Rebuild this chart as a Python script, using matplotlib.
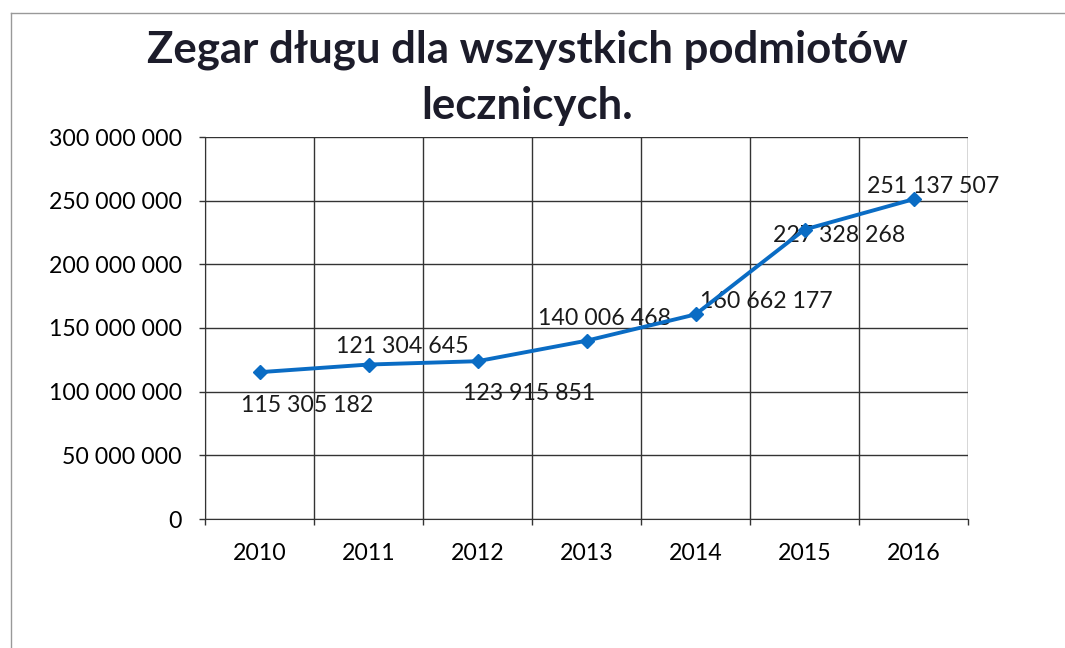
import matplotlib.pyplot as plt
from matplotlib.lines import Line2D
from matplotlib.ticker import FuncFormatter

plt.rcParams['font.family'] = ['Lato', 'DejaVu Sans']

years = ['2010', '2011', '2012', '2013', '2014', '2015', '2016']
debt = [115305182, 121304645, 123915851, 140006468, 160662177, 227328268, 251137507]
# label offsets in points (dx, dy)
label_off = [(34, -24), (24, 13), (37, -23), (13, 16), (51, 9), (25, -4), (14, 9)]

fig = plt.figure(figsize=(10.65, 6.48), dpi=100, facecolor='white')
ax = fig.add_axes([205/1065, 1 - 519/648, (968-205)/1065, (519-137)/648])

x = list(range(len(years)))
ax.plot(x, debt, color='#0a6cc4', lw=2.8, marker='D', ms=7, zorder=3)

for xi, v, (dx, dy) in zip(x, debt, label_off):
    s = f'{v:,}'.replace(',', ' ')
    ax.annotate(s, (xi, v), xytext=(dx, dy), textcoords='offset points',
                ha='center', va='center', fontsize=16.7, color='#1a1a1a', zorder=2)

ax.set_xlim(-0.5, len(years) - 0.5)
ax.set_ylim(0, 300000000)
ax.set_yticks(range(0, 300000001, 50000000))
ax.yaxis.set_major_formatter(FuncFormatter(lambda v, p: f'{int(v):,}'.replace(',', ' ')))
ax.set_xticks(x)
ax.set_xticklabels(years)
ax.set_xticks([i - 0.5 for i in range(len(years) + 1)], minor=True)
ax.tick_params(axis='x', which='major', length=0, pad=17, labelsize=16.7)
ax.tick_params(axis='x', which='minor', length=4.5, width=1, color='#333333')
ax.tick_params(axis='y', length=4.5, width=1, color='#333333', pad=12, labelsize=16.7)

ax.grid(True, axis='y', which='major', color='#333333', lw=1)
ax.grid(True, axis='x', which='minor', color='#333333', lw=1)
for sp in ['top', 'right']:
    ax.spines[sp].set_visible(False)
for sp in ['left', 'bottom']:
    ax.spines[sp].set_color('#333333')
ax.set_axisbelow(True)

fig.text(0.495, 1 - 50/648, 'Zegar długu dla wszystkich podmiotów', ha='center', va='center',
         fontsize=31.5, fontweight='bold', color='#1c1c2a')
fig.text(0.495, 1 - 106/648, 'lecznicych.', ha='center', va='center',
         fontsize=31.5, fontweight='bold', color='#1c1c2a')

# chart border (scan shows only left and top edges)
fig.add_artist(Line2D([11/1065, 11/1065], [0, 1 - 13/648], transform=fig.transFigure,
                      color='#999999', lw=1))
fig.add_artist(Line2D([11/1065, 1], [1 - 13/648, 1 - 13/648], transform=fig.transFigure,
                      color='#999999', lw=1))

fig.savefig('out.png', dpi=100, facecolor='white')
